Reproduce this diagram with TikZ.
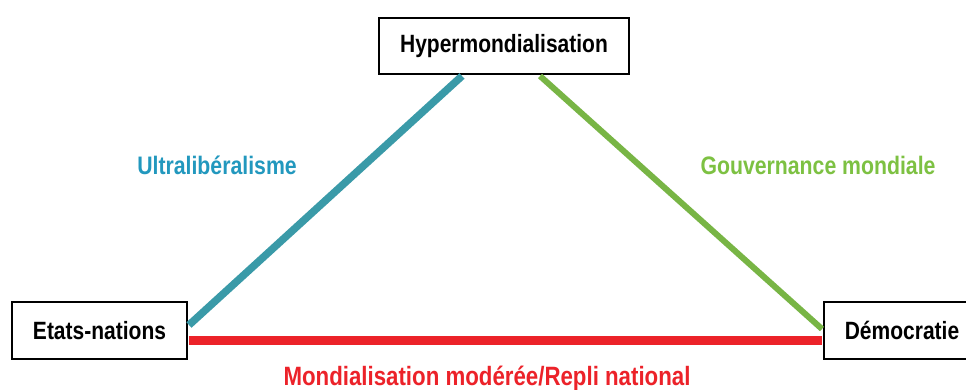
\documentclass[tikz,border=0pt]{standalone}
\usepackage{fontspec}
\newfontfamily\cf[FakeStretch=0.84]{Liberation Sans}
\usetikzlibrary{calc}
\definecolor{tealline}{HTML}{3A9AA8}
\definecolor{tealtext}{HTML}{2298BE}
\definecolor{greenline}{HTML}{78B545}
\definecolor{greentext}{HTML}{7DC142}
\definecolor{redline}{HTML}{EC2229}
\begin{document}
\begin{tikzpicture}[x=1pt,y=1pt,
  box/.style={draw=black,line width=2pt,fill=white,inner sep=0pt,
    font=\cf\bfseries\fontsize{25}{28}\selectfont},
  lab/.style={inner sep=0pt,font=\cf\bfseries\fontsize{25.3}{28}\selectfont}]
\clip (0,0) rectangle (966,390);
\useasboundingbox (0,0) rectangle (966,390);
\fill[white] (0,0) rectangle (966,390);
\node[box,minimum width=250pt,minimum height=56pt] (T) at (504,344) {Hypermondialisation};
\node[box,minimum width=175pt,minimum height=57pt] (L) at (99.5,59.5) {Etats-nations};
\node[box,minimum width=156pt,minimum height=57pt] (R) at (902,59.5) {Démocratie};
\coordinate (Lt) at ($(L.east)+(1,5.5)$);
\coordinate (Tt) at ($(T.south)+(-42,-1)$);
\coordinate (Tg) at ($(T.south)+(36,-1)$);
\coordinate (Rg) at ($(R.west)+(-1,1.5)$);
\coordinate (Lr) at ($(L.east)+(1,-10.5)$);
\coordinate (Rr) at ($(R.west)+(-1,-10.5)$);
\draw[tealline,line width=7.5pt] (Lt) -- (Tt);
\draw[greenline,line width=6pt] (Tg) -- (Rg);
\draw[redline,line width=9pt] (Lr) -- (Rr);
\node[lab,text=tealtext] (U) at (217,225) {Ultralibéralisme};
\node[lab,text=greentext] (G) at (818,225) {Gouvernance mondiale};
\node[lab,text=redline,font=\cf\bfseries\fontsize{26.5}{30}\selectfont] (M) at (487,11) {Mondialisation modérée/Repli national};
\end{tikzpicture}
\end{document}
